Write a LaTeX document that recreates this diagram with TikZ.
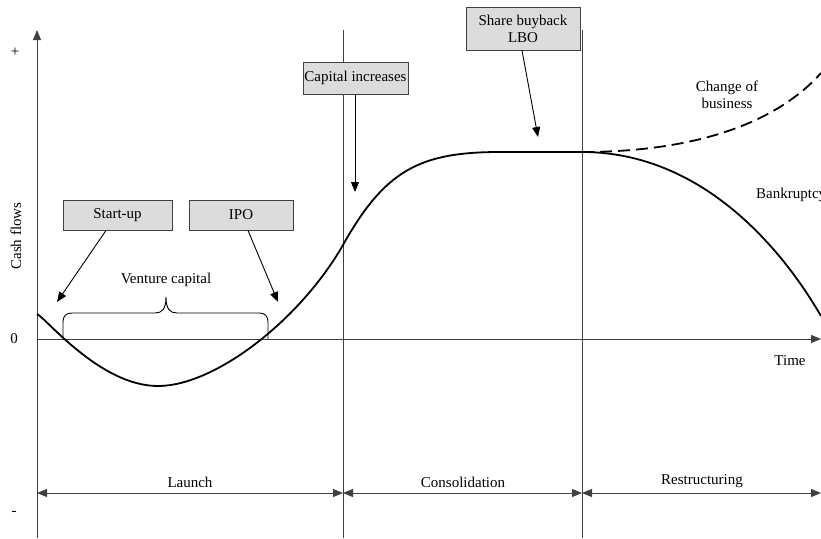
\documentclass[tikz,border=0pt]{standalone}
\usepackage{fontspec}
\setmainfont{Liberation Serif}
\usetikzlibrary{arrows.meta,calc}
\definecolor{axisgray}{HTML}{404040}
\definecolor{boxfill}{HTML}{DCDCDC}
\tikzset{
  axisline/.style={draw=axisgray,line width=1pt},
  tip/.style={-{Triangle[length=10pt,width=8pt]}},
  dtip/.style={{Triangle[length=10pt,width=8pt]}-{Triangle[length=10pt,width=8pt]}},
  labelbox/.style={draw=axisgray,fill=boxfill,line width=0.9pt,inner sep=0pt,align=center},
  txt/.style={inner sep=0pt,align=center},
  cashcurve/.style={black,line width=1.8pt},
  pointer/.style={black,line width=0.9pt,-{Triangle[length=10pt,width=8pt]}}
}
\begin{document}
\begin{tikzpicture}[x=1pt,y=-1pt,font=\fontsize{15}{17}\selectfont]
\useasboundingbox (0,0) rectangle (821,538);
\clip (0,0) rectangle (821,538);
% coordinates
\coordinate (ybot) at (37,538);
\coordinate (ytop) at (37,30);
\coordinate (xl) at (37,339);
\coordinate (xr) at (821,339);
\coordinate (d1t) at (343,30);
\coordinate (d1b) at (343,538);
\coordinate (d2t) at (582,30);
\coordinate (d2b) at (582,538);
\coordinate (p0) at (37,493);
\coordinate (p1) at (343,493);
\coordinate (p2) at (582,493);
\coordinate (p3) at (821,493);
% axes and dividers
\draw[axisline,tip] (ybot) -- (ytop);
\draw[axisline,tip] (xl) -- (xr);
\draw[axisline] (d1t) -- (d1b);
\draw[axisline] (d2t) -- (d2b);
% phase arrows
\draw[axisline,dtip] (p0) -- (p1);
\draw[axisline,dtip] (p1) -- (p2);
\draw[axisline,dtip] (p2) -- (p3);
\node[txt] (launch) at (190,482) {Launch};
\node[txt] (consol) at (463,482) {Consolidation};
\node[txt] (restr) at (702,481) {Restructuring};
% axis labels
\node[txt] (plus) at (15,52) {+};
\node[txt] (minus) at (14,513) {-};
\node[txt] (zero) at (14,339) {0};
\node[txt,rotate=90] (cash) at (16,236) {Cash flows};
\node[txt] (time) at (790,361) {Time};
% curve
\draw[cashcurve] (37,314) .. controls (46,318) and (100,386) .. (158,386)
  .. controls (215,386) and (300,320) .. (343,245)
  .. controls (385,170) and (420,152) .. (500,152) -- (582,152)
  .. controls (720,152) and (800,280) .. (821,316);
\draw[cashcurve,dash pattern=on 12pt off 6pt] (582,152) .. controls (680,152) and (770,130) .. (821,73);
% brace
\draw[black,line width=0.9pt] (63,339) -- (63,322) .. controls (63,316) and (66,313) .. (72,313)
  -- (155,313) .. controls (162,313) and (166,309) .. (166,297)
  .. controls (166,309) and (170,313) .. (177,313) -- (259,313)
  .. controls (265,313) and (268,316) .. (268,322) -- (268,339);
\node[txt] (vc) at (166,280) {Venture capital};
% boxes
\node[labelbox,minimum width=109pt,minimum height=30pt] (su) at (117.5,215) {Start-up};
\node[labelbox,minimum width=104pt,minimum height=30pt] (ipo) at (241,215) {IPO};
\node[labelbox,minimum width=105pt,minimum height=32pt] (ci) at (355.5,78) {Capital increases};
\node[labelbox,minimum width=114pt,minimum height=43pt] (sb) at (523,28.5) {Share buyback\\LBO};
% pointer tips
\coordinate (suT) at (57,302);
\coordinate (ipoT) at (278,302);
\coordinate (ciT) at (355,192);
\coordinate (sbT) at (538,137);
\draw[pointer] ($(su.south)+(-11.5,0)$) -- (suT);
\draw[pointer] ($(ipo.south)+(7,0)$) -- (ipoT);
\draw[pointer] ($(ci.south)+(-0.5,0)$) -- (ciT);
\draw[pointer] ($(sb.south)+(-1,0)$) -- (sbT);
% right labels
\node[txt] (cob) at (727,95) {Change of\\business};
\node[txt,anchor=west] (bk) at (756,195) {Bankruptcy};
\end{tikzpicture}
\end{document}
